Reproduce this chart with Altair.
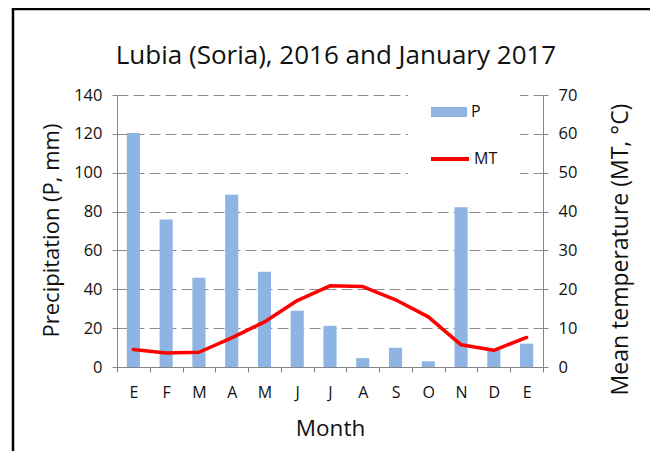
import altair as alt
import pandas as pd

months = ["E", "F", "M", "A", "M", "J", "J", "A", "S", "O", "N", "D", "E"]
precip = [120.5, 75.9, 46.0, 88.6, 49.0, 29.0, 21.2, 4.6, 9.9, 2.9, 82.2, 9.0, 12.0]
temp = [4.5, 3.6, 3.8, 7.5, 11.6, 17.1, 20.9, 20.7, 17.3, 12.9, 5.7, 4.3, 7.6]
title_text = "Lubia (Soria), 2016 and January 2017"

FONT = "Open Sans"
df = pd.DataFrame({
    "i": list(range(len(months))),
    "month": months,
    "P": precip,
    "MT": temp,
    "sP": ["P"] * len(months),
    "sMT": ["MT"] * len(months),
})

label_expr = "[" + ",".join("'%s'" % m for m in months) + "][datum.value]"

x_enc = alt.X(
    "i:O",
    title="Month",
    scale=alt.Scale(paddingInner=0, paddingOuter=0),
    axis=alt.Axis(
        labelExpr=label_expr, labelAngle=0, tickBand="extent", ticks=True, tickSize=5,
        tickColor="#868686", domainColor="#868686", labelFontSize=16, labelColor="#111",
        labelPadding=12, titleFontSize=22.5, titleFont=FONT, labelFont=FONT,
        titleFontWeight="normal", titlePadding=17, titleColor="#111", grid=False,
    ),
)

base = alt.Chart(df)

bars = base.mark_bar(width=alt.RelativeBandSize(0.4)).encode(
    x=x_enc,
    y=alt.Y(
        "P:Q",
        title="Precipitation (P, mm)",
        scale=alt.Scale(domain=[0, 140], nice=False),
        axis=alt.Axis(
            orient="left", values=list(range(0, 141, 20)), grid=True, gridDash=[11, 5],
            gridColor="#8c8c8c", gridWidth=1, tickSize=5, tickColor="#868686",
            domainColor="#868686", labelFontSize=16.5, labelColor="#111", labelPadding=10,
            titleFontSize=22, titleFont=FONT, labelFont=FONT, titleFontWeight="normal",
            titleColor="#111", titleY=135, titlePadding=10,
        ),
    ),
    color=alt.Color(
        "sP:N",
        scale=alt.Scale(domain=["P"], range=["#8DB4E2"]),
        legend=alt.Legend(
            title=None, orient="none", legendX=314, legendY=-1,
            symbolType="M-1,-0.28H1V0.28H-1Z", symbolSize=1296, symbolStrokeWidth=0,
            symbolOpacity=1, labelFontSize=16, labelFont=FONT, labelColor="#111",
            labelOffset=4, padding=0,
        ),
    ),
)

line = base.mark_line(strokeWidth=3.5, strokeJoin="round", strokeCap="round").encode(
    x=x_enc,
    y=alt.Y(
        "MT:Q",
        title="Mean temperature (MT, °C)",
        scale=alt.Scale(domain=[0, 70], nice=False),
        axis=alt.Axis(
            orient="right", values=list(range(0, 71, 10)), grid=False, tickSize=5,
            tickColor="#868686", domainColor="#868686", labelFontSize=16.5, labelColor="#111",
            labelPadding=10, titleFontSize=23, titleFont=FONT, labelFont=FONT,
            titleFontWeight="normal", titleColor="#111", titleAngle=270, titleY=154,
            titleBaseline="top", titlePadding=33,
        ),
    ),
    stroke=alt.Stroke(
        "sMT:N",
        scale=alt.Scale(domain=["MT"], range=["#FF0000"]),
        legend=alt.Legend(
            title=None, orient="none", legendX=312, legendY=43,
            symbolType="stroke", symbolSize=1444, symbolStrokeWidth=4,
            labelFontSize=16, labelFont=FONT, labelColor="#111", labelOffset=3, padding=0,
        ),
    ),
)

deco = pd.DataFrame({"k": [0]})
legend_bg = alt.Chart(deco).mark_rect(color="white").encode(
    x=alt.value(291), x2=alt.value(403), y=alt.value(-8), y2=alt.value(95)
)
frame = alt.Chart(deco).mark_rect(filled=False, stroke="black", strokeWidth=2.5).encode(
    x=alt.value(-104), x2=alt.value(700), y=alt.value(-86), y2=alt.value(500)
)
title_df = pd.DataFrame({"t": [title_text]})
title_mark = alt.Chart(title_df).mark_text(
    font=FONT, fontSize=26, color="#111", align="center", baseline="alphabetic"
).encode(text="t:N", x=alt.value(219), y=alt.value(-31))

chart = (
    alt.layer(legend_bg, bars, line, frame, title_mark)
    .resolve_scale(y="independent", color="independent", stroke="independent")
    .properties(
        width=426,
        height=272,
        autosize=alt.AutoSizeParams(type="none"),
        padding={"left": 109, "top": 87, "right": 107, "bottom": 84},
    )
    .configure_view(stroke=None)
)

chart.save("out.html", embed_options={"renderer": "svg", "actions": False})
